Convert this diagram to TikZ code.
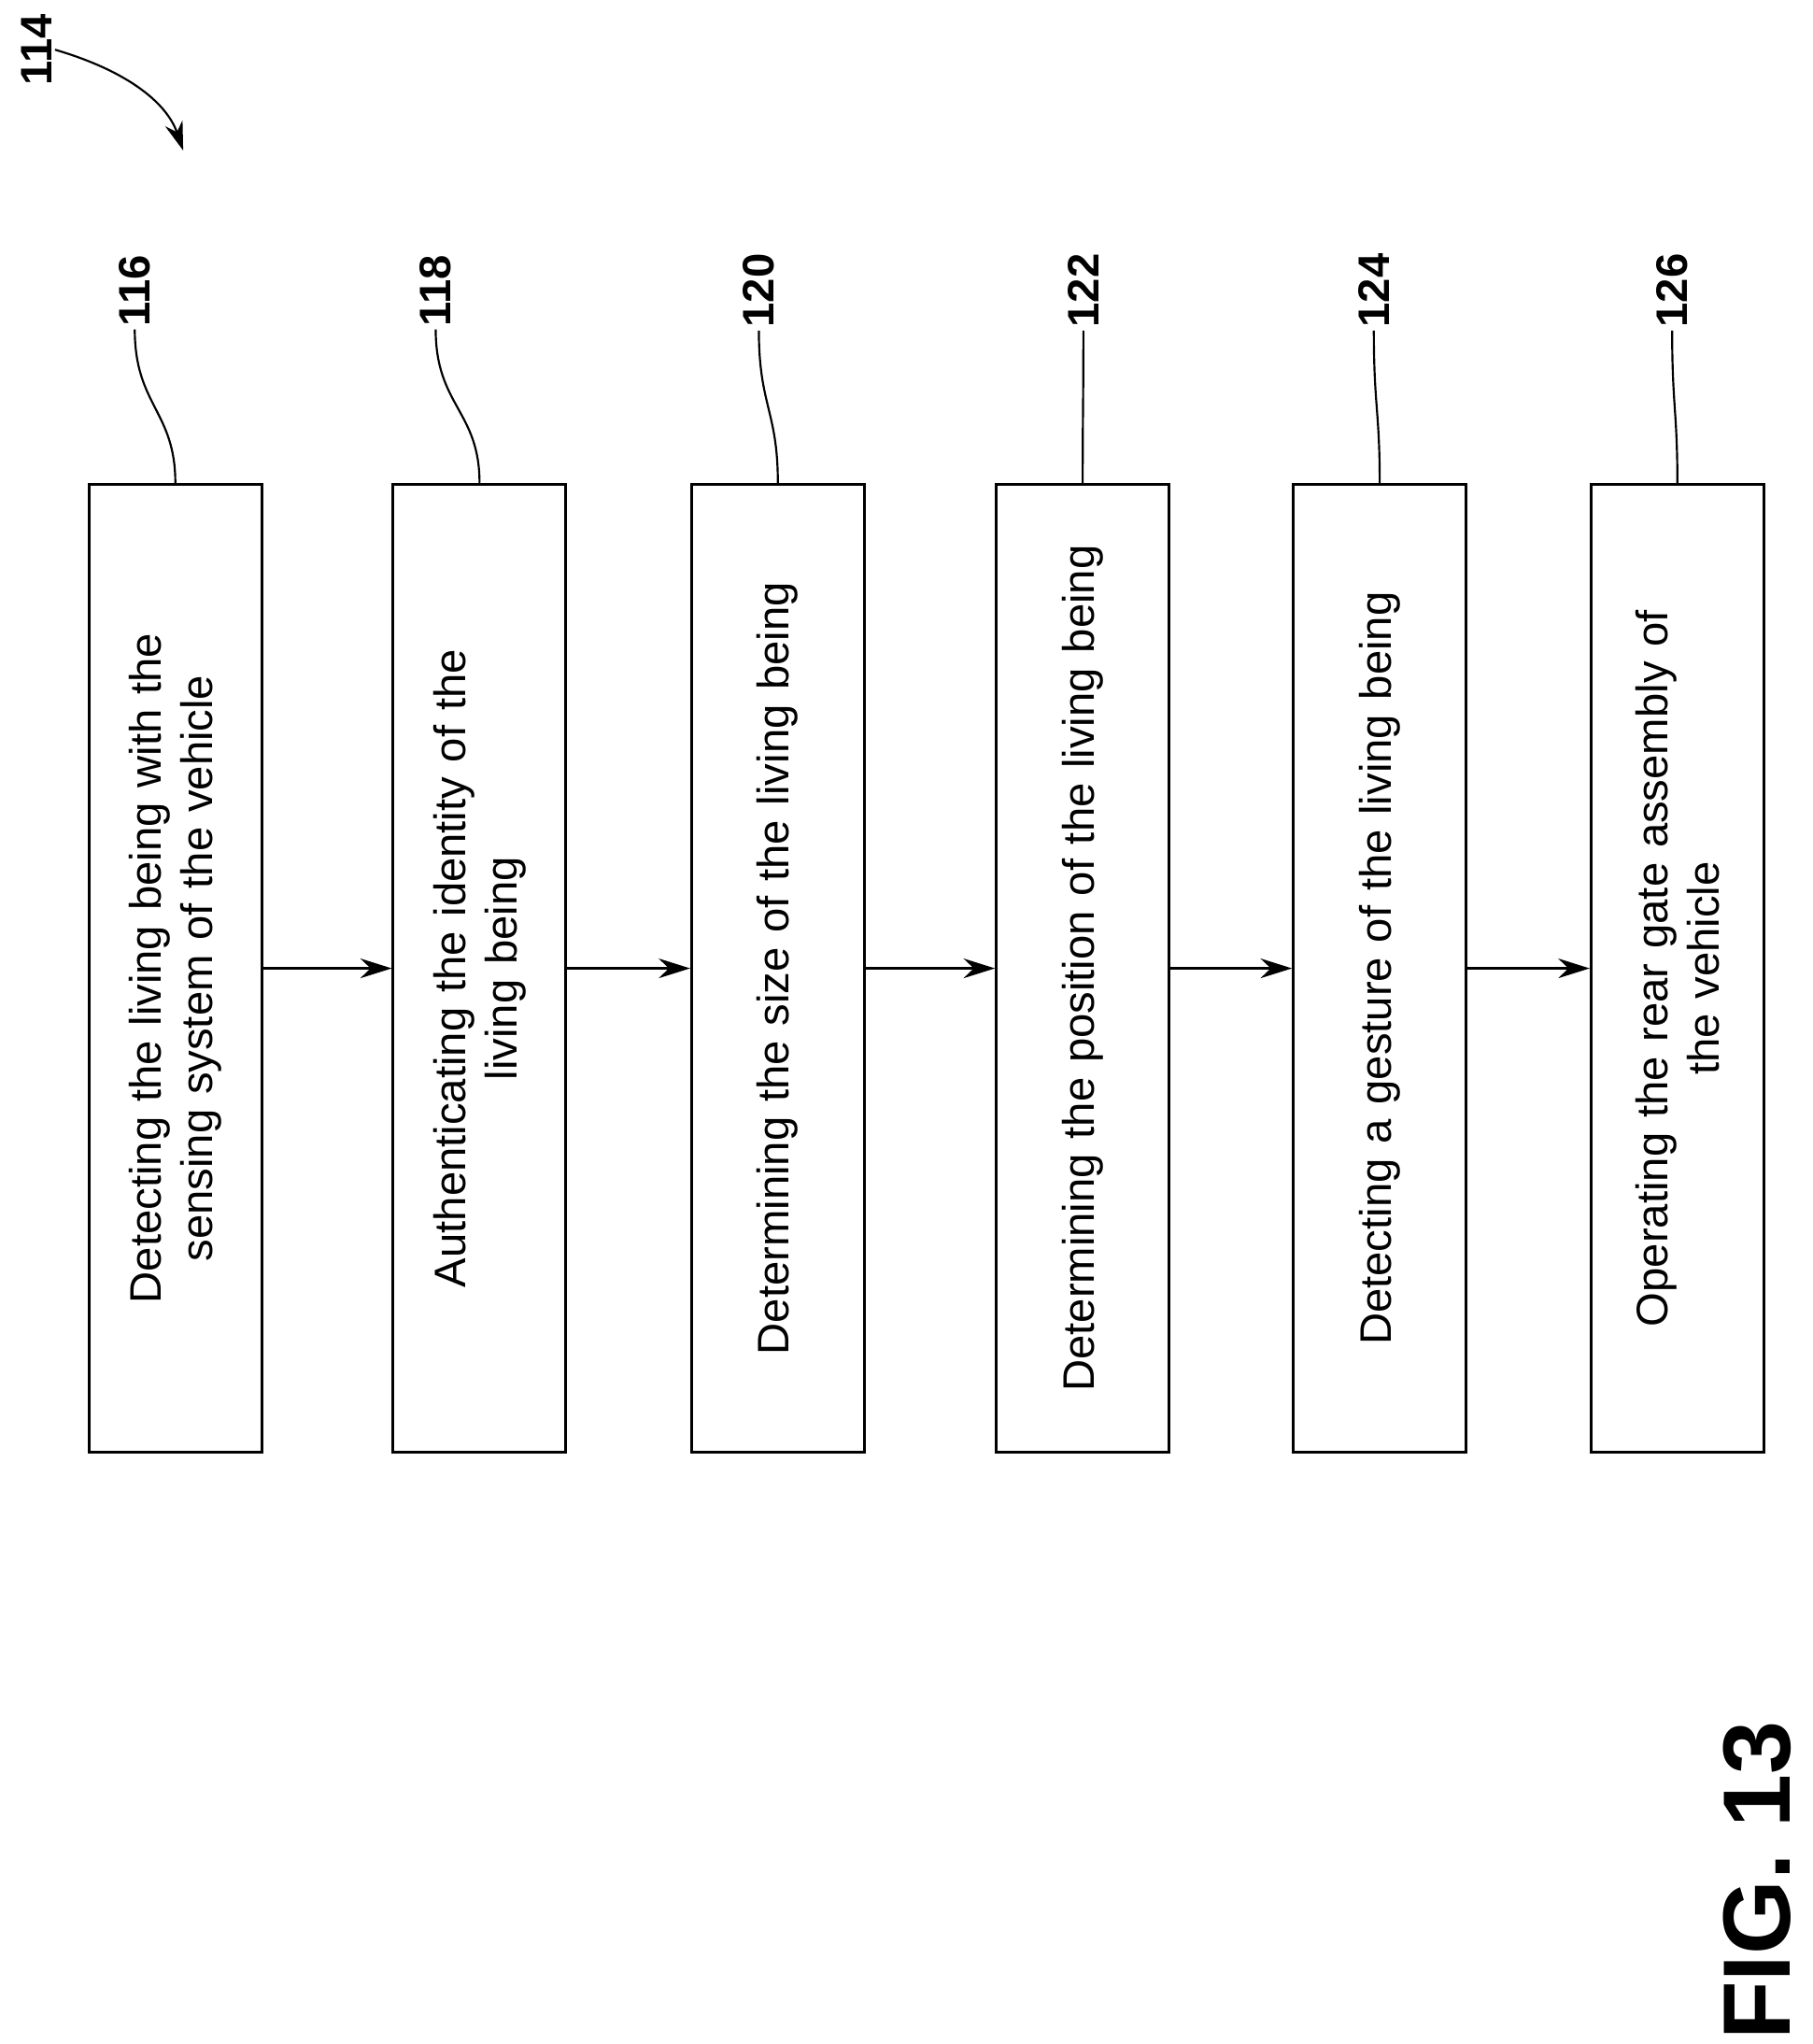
\documentclass[tikz,border=0pt]{standalone}
\usepackage{fontspec}
\setmainfont{Liberation Sans}
\usetikzlibrary{arrows.meta,positioning,calc}
\tikzset{
  stepbox/.style={draw,line width=3pt,rotate=90,minimum width=37cm,minimum height=6.6cm,
    text width=34cm,align=center,font=\fontsize{48}{56}\selectfont},
  ref/.style={rotate=90,font=\bfseries\fontsize{48}{56}\selectfont},
  flow/.style={line width=2.6pt,-{Stealth[length=1.2cm,width=0.75cm]}},
  lead/.style={line width=2.2pt}
}
\begin{document}
\begin{tikzpicture}[x=0.05cm,y=-0.05cm]
\useasboundingbox (0,0) rectangle (1385,1562);
% boxes
\node[stepbox] (b1) at (134,740) {Detecting the living being with the\\sensing system of the vehicle};
\node[stepbox] (b2) at (366.5,740) {Authenticating the identity of the\\living being};
\node[stepbox] (b3) at (594.5,740) {Determining the size of the living being};
\node[stepbox] (b4) at (827.5,740) {Determining the position of the living being};
\node[stepbox] (b5) at (1054.5,740) {Detecting a gesture of the living being};
\node[stepbox] (b6) at (1282,740) {Operating the rear gate assembly of\\the vehicle};
% arrows
\foreach \a/\b in {b1/b2,b2/b3,b3/b4,b4/b5,b5/b6}
  \draw[flow] (\a.south) -- (\b.north);
% reference numerals
\foreach \b/\x/\n in {b1/103/116,b2/333/118,b3/580/120,b4/828/122,b5/1050/124,b6/1278/126}{
  \node[ref] (n\n) at (\x,222) {\n};
  \draw[lead] (\b.east) .. controls ($(\b.east)+(0,-55)$) and (\x,310) .. (n\n.west);
}
\node[ref] (n114) at (28,38) {114};
\draw[lead,-{Stealth[length=1.1cm,width=0.7cm]}] (n114.south) .. controls (100,55) and (128,80) .. (140,115);
\node[rotate=90,font=\bfseries\fontsize{104}{120}\selectfont] (fig) at (1343,1437) {FIG. 13};
\end{tikzpicture}
\end{document}
